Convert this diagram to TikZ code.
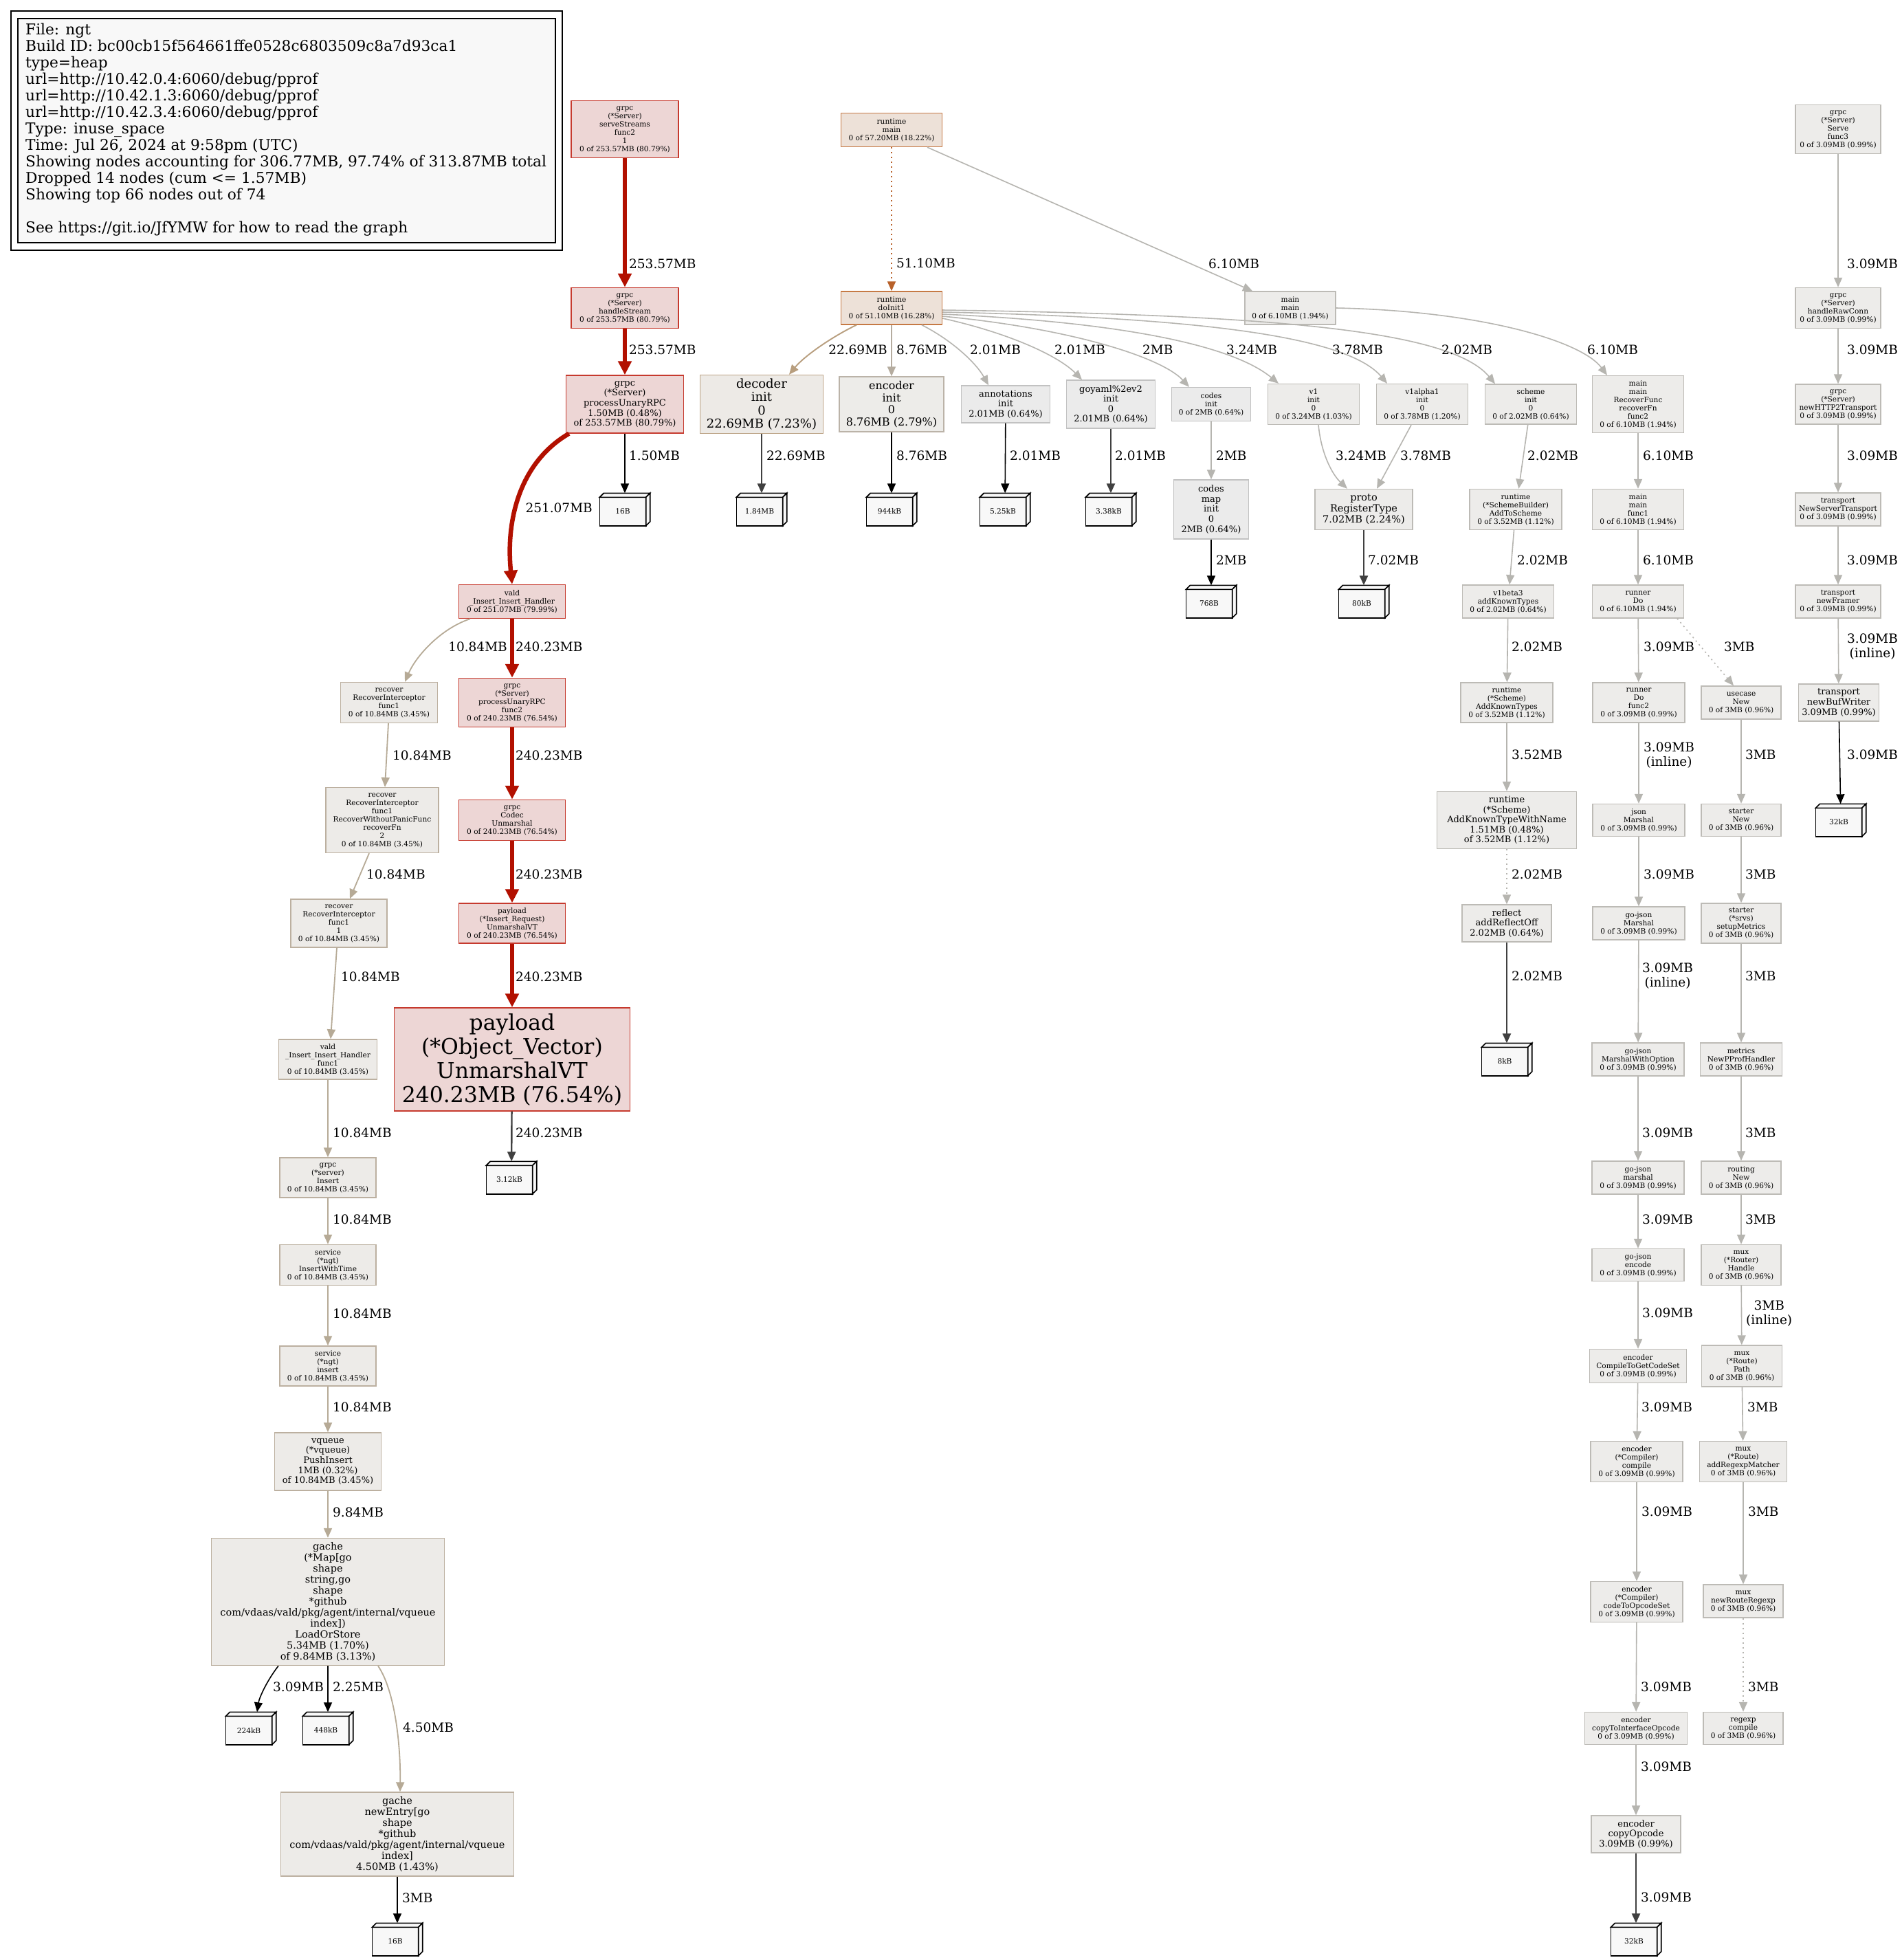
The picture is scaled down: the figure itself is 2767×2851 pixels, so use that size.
\documentclass[tikz,border=0pt]{standalone}
\usepackage{fontspec}
\setmainfont{DejaVu Serif}
\usetikzlibrary{arrows.meta}
\definecolor{rfill}{HTML}{EDD6D5}
\definecolor{rdraw}{HTML}{C63A2E}
\definecolor{ofill}{HTML}{EDE1D8}
\definecolor{odraw}{HTML}{C67A45}
\definecolor{tfill}{HTML}{EDEAE6}
\definecolor{tdraw}{HTML}{BCA385}
\definecolor{efill}{HTML}{EDECE9}
\definecolor{edraw}{HTML}{BBB3A8}
\definecolor{cfill}{HTML}{EDEBE8}
\definecolor{cdraw}{HTML}{BCB0A0}
\definecolor{gfill}{HTML}{EDECEA}
\definecolor{gdraw}{HTML}{BDBBB6}
\definecolor{hfill}{HTML}{EBEBEB}
\definecolor{hdraw}{HTML}{C2C2C2}
\definecolor{lfill}{HTML}{F8F8F8}
\definecolor{eRed}{HTML}{B21000}
\definecolor{eOra}{HTML}{B8612A}
\definecolor{eTan}{HTML}{B89E7E}
\definecolor{eEnc}{HTML}{B5AC9F}
\definecolor{eChain}{HTML}{B6AA96}
\definecolor{eGray}{HTML}{B6B5B0}
\tikzset{
  nbase/.style={draw, rectangle, align=center, inner sep=1pt, line width=1.4pt},
  rN/.style={nbase, fill=rfill, draw=rdraw},
  oN/.style={nbase, fill=ofill, draw=odraw},
  tN/.style={nbase, fill=tfill, draw=tdraw},
  eN/.style={nbase, fill=efill, draw=edraw},
  cN/.style={nbase, fill=cfill, draw=cdraw},
  gN/.style={nbase, fill=gfill, draw=gdraw},
  hN/.style={nbase, fill=hfill, draw=hdraw},
  sz/.style 2 args={minimum width=#1pt, minimum height=#2pt},
  f8/.style={font=\fontsize{10.6pt}{12pt}\selectfont},
  f10/.style={font=\fontsize{13pt}{14.6pt}\selectfont},
  f11/.style={font=\fontsize{14.5pt}{16pt}\selectfont},
  f12/.style={font=\fontsize{16pt}{17.5pt}\selectfont},
  f13/.style={font=\fontsize{18pt}{19.2pt}\selectfont},
  f24/.style={font=\fontsize{31.5pt}{35pt}\selectfont},
  elab/.style={font=\fontsize{18.5pt}{21pt}\selectfont, inner sep=0pt, anchor=west, align=center},
  leafn/.style={rectangle, inner sep=0pt, minimum width=73pt, minimum height=47pt},
  leaft/.style={inner sep=0pt, font=\fontsize{10.6pt}{12pt}\selectfont},
  leafline/.style={fill=lfill, draw=black, line width=1.6pt, line join=miter},
  tipS/.style={-{Triangle[length=14pt,width=12pt]}},
  redE/.style={draw=eRed, line width=6.5pt, -{Triangle[length=20pt,width=19pt]}},
  grayE/.style={draw=eGray, line width=1.6pt, tipS},
  tanE/.style={draw=eTan, line width=1.9pt, tipS},
  encE/.style={draw=eEnc, line width=1.7pt, tipS},
  chainE/.style={draw=eChain, line width=1.8pt, tipS},
  oraE/.style={draw=eOra, line width=1.8pt, tipS},
  blkE/.style={draw=black, line width=1.6pt, tipS},
  darkE/.style={draw=black!75, line width=2.4pt, tipS},
  dotE/.style={dash pattern=on 2pt off 5pt},
}
\newcommand\leafbox[3]{%
  \node[leafn] (#1) at (#2) {};
  \filldraw[leafline] ([yshift=-6pt]#1.north west) rectangle ([xshift=-6pt]#1.south east);
  \filldraw[leafline] ([yshift=-6pt]#1.north west) -- ([xshift=6pt]#1.north west) -- (#1.north east) -- ([xshift=-6pt,yshift=-6pt]#1.north east) -- cycle;
  \filldraw[leafline] ([xshift=-6pt,yshift=-6pt]#1.north east) -- (#1.north east) -- ([yshift=6pt]#1.south east) -- ([xshift=-6pt]#1.south east) -- cycle;
  \node[leaft] (#1t) at ([xshift=-3pt,yshift=-3pt]#1.center) {#3};
}
\begin{document}
\begin{tikzpicture}[x=1pt,y=-1pt]
\useasboundingbox (0,0) rectangle (2767,2851);
\fill[white] (0,0) rectangle (2767,2851);
% legend
\node[draw, line width=1.3pt, minimum width=802pt, minimum height=348pt, inner sep=0pt] (legout) at (417,190) {};
\node[draw, line width=1.3pt, fill=lfill, minimum width=782pt, minimum height=326pt, inner sep=0pt] (legin) at (417,190) {};
\node[anchor=north west, align=left, inner sep=0pt, font=\fontsize{21.7pt}{24pt}\selectfont] (legtxt) at (37,34) {File: ngt\\Build ID: bc00cb15f564661ffe0528c6803509c8a7d93ca1\\type=heap\\url=http://10.42.0.4:6060/debug/pprof\\url=http://10.42.1.3:6060/debug/pprof\\url=http://10.42.3.4:6060/debug/pprof\\Type: inuse\_space\\Time: Jul 26, 2024 at 9:58pm (UTC)\\Showing nodes accounting for 306.77MB, 97.74\% of 313.87MB total\\Dropped 14 nodes (cum <= 1.57MB)\\Showing top 66 nodes out of 74\\[24pt]See https://git.io/JfYMW for how to read the graph};

% ---------- nodes ----------
\node[rN,f8,sz={156}{83}] (ss) at (909,188) {grpc\\(*Server)\\serveStreams\\func2\\1\\0 of 253.57MB (80.79\%)};
\node[rN,f8,sz={156}{59}] (hs) at (909,448) {grpc\\(*Server)\\handleStream\\0 of 253.57MB (80.79\%)};
\node[rN,f10,sz={171}{84}] (pu) at (909,588) {grpc\\(*Server)\\processUnaryRPC\\1.50MB (0.48\%)\\of 253.57MB (80.79\%)};
\leafbox{l16a}{909,741}{16B}
\node[oN,f8,sz={147}{49}] (rm) at (1297,189) {runtime\\main\\0 of 57.20MB (18.22\%)};
\node[oN,f8,sz={147}{48}] (di) at (1297,448) {runtime\\doInit1\\0 of 51.10MB (16.28\%)};
\node[tN,f13,sz={179}{85}] (dec) at (1108,588) {decoder\\init\\0\\22.69MB (7.23\%)};
\node[eN,f12,sz={152}{80}] (enc) at (1297,588) {encoder\\init\\0\\8.76MB (2.79\%)};
\node[hN,f10,sz={129}{54}] (ann) at (1463,588) {annotations\\init\\2.01MB (0.64\%)};
\node[hN,f10,sz={129}{70}] (goy) at (1616,588) {goyaml\%2ev2\\init\\0\\2.01MB (0.64\%)};
\node[hN,f8,sz={115}{49}] (cod) at (1762,588) {codes\\init\\0 of 2MB (0.64\%)};
\node[gN,f8,sz={133}{59}] (v1) at (1911,588) {v1\\init\\0\\0 of 3.24MB (1.03\%)};
\node[gN,f8,sz={133}{59}] (v1a) at (2069,588) {v1alpha1\\init\\0\\0 of 3.78MB (1.20\%)};
\node[gN,f8,sz={133}{58}] (sch) at (2227,588) {scheme\\init\\0\\0 of 2.02MB (0.64\%)};
\node[gN,f8,sz={132}{48}] (mm) at (1877,448) {main\\main\\0 of 6.10MB (1.94\%)};
\node[gN,f8,sz={133}{83}] (rf) at (2383,588) {main\\main\\RecoverFunc\\recoverFn\\func2\\0 of 6.10MB (1.94\%)};
\leafbox{l184}{1108,741}{1.84MB}
\leafbox{l944}{1297,741}{944kB}
\leafbox{l525}{1462,741}{5.25kB}
\leafbox{l338}{1616,741}{3.38kB}
\node[hN,f10,sz={109}{86}] (cmi) at (1762,741) {codes\\map\\init\\0\\2MB (0.64\%)};
\node[gN,f11,sz={142}{59}] (prt) at (1984,741) {proto\\RegisterType\\7.02MB (2.24\%)};
\node[gN,f8,sz={134}{59}] (ats) at (2205,741) {runtime\\(*SchemeBuilder)\\AddToScheme\\0 of 3.52MB (1.12\%)};
\node[gN,f8,sz={133}{59}] (mf1) at (2383,741) {main\\main\\func1\\0 of 6.10MB (1.94\%)};
% right column
\node[gN,f8,sz={124}{71}] (sf3) at (2674,188) {grpc\\(*Server)\\Serve\\func3\\0 of 3.09MB (0.99\%)};
\node[gN,f8,sz={124}{59}] (hrc) at (2674,448) {grpc\\(*Server)\\handleRawConn\\0 of 3.09MB (0.99\%)};
\node[gN,f8,sz={124}{58}] (nh2) at (2674,588) {grpc\\(*Server)\\newHTTP2Transport\\0 of 3.09MB (0.99\%)};
\node[gN,f8,sz={124}{48}] (nst) at (2674,741) {transport\\NewServerTransport\\0 of 3.09MB (0.99\%)};
\node[gN,f8,sz={124}{48}] (nfr) at (2674,875) {transport\\newFramer\\0 of 3.09MB (0.99\%)};
\node[gN,f10,sz={117}{54}] (nbw) at (2675,1022) {transport\\newBufWriter\\3.09MB (0.99\%)};
\leafbox{l32a}{2678,1193}{32kB}
% rank 4
\node[rN,f8,sz={155}{49}] (vih) at (745,875) {vald\\\_Insert\_Insert\_Handler\\0 of 251.07MB (79.99\%)};
\leafbox{l768}{1762,875}{768B}
\leafbox{l80}{1984,875}{80kB}
\node[gN,f8,sz={133}{48}] (v1b) at (2194,875) {v1beta3\\addKnownTypes\\0 of 2.02MB (0.64\%)};
\node[gN,f8,sz={133}{48}] (rdo) at (2383,875) {runner\\Do\\0 of 6.10MB (1.94\%)};
% rank 5
\node[cN,f8,sz={141}{59}] (ric) at (566,1022) {recover\\RecoverInterceptor\\func1\\0 of 10.84MB (3.45\%)};
\node[rN,f8,sz={155}{71}] (pu2) at (745,1022) {grpc\\(*Server)\\processUnaryRPC\\func2\\0 of 240.23MB (76.54\%)};
\node[gN,f8,sz={134}{58}] (akt) at (2192,1022) {runtime\\(*Scheme)\\AddKnownTypes\\0 of 3.52MB (1.12\%)};
\node[gN,f8,sz={134}{58}] (rdf2) at (2384,1022) {runner\\Do\\func2\\0 of 3.09MB (0.99\%)};
\node[gN,f8,sz={116}{48}] (ucn) at (2533,1022) {usecase\\New\\0 of 3MB (0.96\%)};
% rank 6
\node[cN,f8,sz={164}{95}] (rwp) at (556,1193) {recover\\RecoverInterceptor\\func1\\RecoverWithoutPanicFunc\\recoverFn\\2\\0 of 10.84MB (3.45\%)};
\node[rN,f8,sz={155}{59}] (cun) at (745,1193) {grpc\\Codec\\Unmarshal\\0 of 240.23MB (76.54\%)};
\node[gN,f10,sz={203}{83}] (aktn) at (2192,1193) {runtime\\(*Scheme)\\AddKnownTypeWithName\\1.51MB (0.48\%)\\of 3.52MB (1.12\%)};
\node[gN,f8,sz={134}{47}] (jm) at (2384,1193) {json\\Marshal\\0 of 3.09MB (0.99\%)};
\node[gN,f8,sz={116}{47}] (stn) at (2533,1193) {starter\\New\\0 of 3MB (0.96\%)};
% rank 7
\node[cN,f8,sz={140}{70}] (ri1) at (493,1343) {recover\\RecoverInterceptor\\func1\\1\\0 of 10.84MB (3.45\%)};
\node[rN,f8,sz={155}{58}] (pir) at (745,1343) {payload\\(*Insert\_Request)\\UnmarshalVT\\0 of 240.23MB (76.54\%)};
\node[gN,f10,sz={130}{54}] (rao) at (2192,1343) {reflect\\addReflectOff\\2.02MB (0.64\%)};
\node[gN,f8,sz={134}{48}] (gjm) at (2384,1343) {go-json\\Marshal\\0 of 3.09MB (0.99\%)};
\node[gN,f8,sz={116}{58}] (ssm) at (2533,1343) {starter\\(*srvs)\\setupMetrics\\0 of 3MB (0.96\%)};
% rank 8
\node[cN,f8,sz={143}{58}] (vhf) at (477,1541) {vald\\\_Insert\_Insert\_Handler\\func1\\0 of 10.84MB (3.45\%)};
\node[rN,f24,sz={343}{150}] (pov) at (745,1541) {payload\\(*Object\_Vector)\\UnmarshalVT\\240.23MB (76.54\%)};
\leafbox{l8k}{2192,1541}{8kB}
\node[gN,f8,sz={134}{48}] (gjmo) at (2383,1541) {go-json\\MarshalWithOption\\0 of 3.09MB (0.99\%)};
\node[gN,f8,sz={119}{48}] (mpp) at (2533,1541) {metrics\\NewPProfHandler\\0 of 3MB (0.96\%)};
% rank 9
\node[cN,f8,sz={140}{58}] (gsi) at (477,1713) {grpc\\(*server)\\Insert\\0 of 10.84MB (3.45\%)};
\leafbox{l312}{744,1713}{3.12kB}
\node[gN,f8,sz={134}{48}] (gjml) at (2383,1713) {go-json\\marshal\\0 of 3.09MB (0.99\%)};
\node[gN,f8,sz={116}{48}] (rtn) at (2533,1713) {routing\\New\\0 of 3MB (0.96\%)};
% rank 10
\node[cN,f8,sz={140}{59}] (siwt) at (477,1840) {service\\(*ngt)\\InsertWithTime\\0 of 10.84MB (3.45\%)};
\node[gN,f8,sz={134}{47}] (gje) at (2383,1840) {go-json\\encode\\0 of 3.09MB (0.99\%)};
\node[gN,f8,sz={116}{59}] (mrh) at (2533,1840) {mux\\(*Router)\\Handle\\0 of 3MB (0.96\%)};
% rank 11
\node[cN,f8,sz={140}{58}] (sins) at (477,1987) {service\\(*ngt)\\insert\\0 of 10.84MB (3.45\%)};
\node[gN,f8,sz={141}{49}] (ecg) at (2383,1987) {encoder\\CompileToGetCodeSet\\0 of 3.09MB (0.99\%)};
\node[gN,f8,sz={117}{60}] (mrp) at (2534,1987) {mux\\(*Route)\\Path\\0 of 3MB (0.96\%)};
% rank 12
\node[cN,f10,sz={155}{84}] (vpi) at (477,2126) {vqueue\\(*vqueue)\\PushInsert\\1MB (0.32\%)\\of 10.84MB (3.45\%)};
\node[gN,f8,sz={134}{59}] (ecc) at (2381,2126) {encoder\\(*Compiler)\\compile\\0 of 3.09MB (0.99\%)};
\node[gN,f8,sz={127}{59}] (mar) at (2536,2126) {mux\\(*Route)\\addRegexpMatcher\\0 of 3MB (0.96\%)};
% rank 13
\node[cN,f11,sz={339}{185}] (glos) at (477,2330) {gache\\(*Map[go\\shape\\string,go\\shape\\{*}github\\com/vdaas/vald/pkg/agent/internal/vqueue\\index])\\LoadOrStore\\5.34MB (1.70\%)\\of 9.84MB (3.13\%)};
\node[gN,f8,sz={134}{59}] (eco) at (2381,2330) {encoder\\(*Compiler)\\codeToOpcodeSet\\0 of 3.09MB (0.99\%)};
\node[gN,f8,sz={116}{48}] (mnr) at (2536,2329) {mux\\newRouteRegexp\\0 of 3MB (0.96\%)};
% rank 14
\leafbox{l224}{365,2514}{224kB}
\leafbox{l448}{477,2514}{448kB}
\node[gN,f8,sz={149}{47}] (ecti) at (2380,2514) {encoder\\copyToInterfaceOpcode\\0 of 3.09MB (0.99\%)};
\node[gN,f8,sz={116}{47}] (rxc) at (2536,2514) {regexp\\compile\\0 of 3MB (0.96\%)};
% rank 15
\node[cN,f11,sz={339}{122}] (gne) at (578,2668) {gache\\newEntry[go\\shape\\{*}github\\com/vdaas/vald/pkg/agent/internal/vqueue\\index]\\4.50MB (1.43\%)};
\node[gN,f10,sz={130}{54}] (eco2) at (2380,2668) {encoder\\copyOpcode\\3.09MB (0.99\%)};
% rank 16
\leafbox{l16b}{578,2821}{16B}
\leafbox{l32b}{2380,2821}{32kB}

% ---------- edges ----------
\draw[redE] (ss) -- (hs);
\draw[redE] (hs) -- (pu);
\draw[blkE] (pu) -- (l16a);
\draw[redE] ([xshift=5pt]pu.south west) .. controls (760,670) and (735,750) .. (vih.north);
\draw[oraE, dotE] (rm) -- (di);
\draw[grayE] ([xshift=52pt]rm.south) -- ([xshift=-55pt]mm.north);
\draw[tanE] ([xshift=-51pt]di.south) .. controls (1210,490) and (1170,518) .. ([xshift=40pt]dec.north);
\draw[encE] (di) -- (enc);
\draw[grayE] ([xshift=44pt]di.south) .. controls (1385,495) and (1420,528) .. ([xshift=-25pt]ann.north);
\draw[grayE] ([yshift=-15pt]di.east) .. controls (1470,485) and (1540,518) .. ([xshift=-42pt]goy.north);
\draw[grayE] ([yshift=-12pt]di.east) .. controls (1560,478) and (1690,520) .. ([xshift=-32pt]cod.north);
\draw[grayE] ([yshift=-9pt]di.east) .. controls (1620,468) and (1790,500) .. ([xshift=-51pt]v1.north);
\draw[grayE] ([yshift=-6pt]di.east) .. controls (1750,462) and (1960,490) .. ([xshift=-51pt]v1a.north);
\draw[grayE] ([yshift=-3pt]di.east) .. controls (1850,458) and (2110,480) .. ([xshift=-52pt]sch.north);
\draw[grayE] (mm.east) .. controls (2150,452) and (2300,495) .. ([xshift=-45pt]rf.north);
\draw[darkE] (dec) -- (l184);
\draw[blkE] (enc) -- (l944);
\draw[blkE] (ann) -- (l525);
\draw[darkE] (goy) -- (l338);
\draw[grayE] (cod) -- (cmi);
\draw[grayE] ([xshift=7pt]v1.south) .. controls (1922,660) and (1938,690) .. ([xshift=-24pt]prt.north);
\draw[grayE] ([xshift=-16pt]v1a.south) -- ([xshift=19pt]prt.north);
\draw[grayE] (sch) -- (ats);
\draw[grayE] (rf) -- (mf1);
\draw[blkE] (cmi) -- (l768);
\draw[darkE] (prt) -- (l80);
\draw[grayE] (ats) -- (v1b);
\draw[grayE] (mf1) -- (rdo);
\draw[grayE] (sf3) -- (hrc);
\draw[grayE] (hrc) -- (nh2);
\draw[grayE] (nh2) -- (nst);
\draw[grayE] (nst) -- (nfr);
\draw[grayE] (nfr) -- (nbw);
\draw[blkE] (nbw) -- (l32a);
\draw[chainE] ([xshift=17pt]vih.south west) .. controls (640,915) and (605,955) .. ([xshift=23pt]ric.north);
\draw[redE] (vih) -- (pu2);
\draw[redE] (pu2) -- (cun);
\draw[redE] (cun) -- (pir);
\draw[redE] (pir) -- (pov);
\draw[darkE] (pov) -- (l312);
\draw[chainE] ([xshift=-1pt]ric.south) -- ([xshift=4pt]rwp.north);
\draw[chainE] ([xshift=-19pt]rwp.south) -- ([xshift=16pt]ri1.north);
\draw[chainE] ([xshift=-3pt]ri1.south) -- ([xshift=4pt]vhf.north);
\draw[chainE] (vhf) -- (gsi);
\draw[chainE] (gsi) -- (siwt);
\draw[chainE] (siwt) -- (sins);
\draw[chainE] (sins) -- (vpi);
\draw[chainE] (vpi) -- (glos);
\draw[blkE] ([xshift=-72pt]glos.south) .. controls (388,2445) and (377,2470) .. ([xshift=9pt]l224.north);
\draw[blkE] (glos) -- (l448);
\draw[chainE] ([xshift=73pt]glos.south) .. controls (575,2460) and (583,2540) .. ([xshift=4pt]gne.north);
\draw[blkE] (gne) -- (l16b);
\draw[grayE] (v1b) -- (akt);
\draw[grayE] (akt) -- (aktn);
\draw[grayE, dotE] (aktn) -- (rao);
\draw[darkE] (rao) -- (l8k);
\draw[grayE] (rdo) -- (rdf2);
\draw[grayE, dotE] ([xshift=57pt]rdo.south) -- ([xshift=-11pt]ucn.north);
\draw[grayE] (rdf2) -- (jm);
\draw[grayE] (ucn) -- (stn);
\draw[grayE] (jm) -- (gjm);
\draw[grayE] (stn) -- (ssm);
\draw[grayE] (gjm) -- (gjmo);
\draw[grayE] (ssm) -- (mpp);
\draw[grayE] (gjmo) -- (gjml);
\draw[grayE] (mpp) -- (rtn);
\draw[grayE] (gjml) -- (gje);
\draw[grayE] (rtn) -- (mrh);
\draw[grayE] (gje) -- (ecg);
\draw[grayE] (mrh) -- (mrp);
\draw[grayE] (ecg) -- (ecc);
\draw[grayE] (mrp) -- (mar);
\draw[grayE] (ecc) -- (eco);
\draw[grayE] (mar) -- (mnr);
\draw[grayE] (eco) -- (ecti);
\draw[grayE, dotE] (mnr) -- (rxc);
\draw[grayE] (ecti) -- (eco2);
\draw[darkE] (eco2) -- (l32b);

% ---------- edge labels ----------
\node[elab] (t1) at (915,384) {253.57MB};
\node[elab] (t2) at (915,509) {253.57MB};
\node[elab] (t3) at (915,663) {1.50MB};
\node[elab,anchor=east] (t4) at (862,739) {251.07MB};
\node[elab] (t5) at (1304,383) {51.10MB};
\node[elab] (t6) at (1758,384) {6.10MB};
\node[elab,anchor=east] (t7) at (1291,509) {22.69MB};
\node[elab] (t8) at (1304,509) {8.76MB};
\node[elab] (t9) at (1411,509) {2.01MB};
\node[elab] (t10) at (1534,509) {2.01MB};
\node[elab] (t11) at (1662,509) {2MB};
\node[elab] (t12) at (1784,509) {3.24MB};
\node[elab] (t13) at (1938,509) {3.78MB};
\node[elab] (t14) at (2097,509) {2.02MB};
\node[elab] (t15) at (2309,509) {6.10MB};
\node[elab] (t16) at (1115,663) {22.69MB};
\node[elab] (t17) at (1304,663) {8.76MB};
\node[elab] (t18) at (1469,663) {2.01MB};
\node[elab] (t19) at (1622,663) {2.01MB};
\node[elab] (t20) at (1769,663) {2MB};
\node[elab] (t21) at (1943,663) {3.24MB};
\node[elab] (t22) at (2037,663) {3.78MB};
\node[elab] (t23) at (2222,663) {2.02MB};
\node[elab] (t24) at (2390,663) {6.10MB};
\node[elab] (t25) at (1769,815) {2MB};
\node[elab] (t26) at (1990,815) {7.02MB};
\node[elab] (t27) at (2207,815) {2.02MB};
\node[elab] (t28) at (2390,815) {6.10MB};
\node[elab] (t29) at (2687,384) {3.09MB};
\node[elab] (t30) at (2687,509) {3.09MB};
\node[elab] (t31) at (2687,663) {3.09MB};
\node[elab] (t32) at (2687,815) {3.09MB};
\node[elab] (t33) at (2687,941) {3.09MB\\(inline)};
\node[elab] (t34) at (2687,1098) {3.09MB};
\node[elab,anchor=east] (t35) at (738,941) {10.84MB};
\node[elab] (t36) at (750,941) {240.23MB};
\node[elab] (t37) at (571,1099) {10.84MB};
\node[elab] (t38) at (750,1099) {240.23MB};
\node[elab] (t39) at (533,1272) {10.84MB};
\node[elab] (t40) at (750,1272) {240.23MB};
\node[elab] (t41) at (496,1421) {10.84MB};
\node[elab] (t42) at (750,1421) {240.23MB};
\node[elab] (t43) at (484,1648) {10.84MB};
\node[elab] (t44) at (750,1648) {240.23MB};
\node[elab] (t45) at (484,1774) {10.84MB};
\node[elab] (t46) at (484,1911) {10.84MB};
\node[elab] (t47) at (484,2047) {10.84MB};
\node[elab] (t48) at (484,2200) {9.84MB};
\node[elab] (t49) at (397,2454) {3.09MB};
\node[elab] (t50) at (484,2454) {2.25MB};
\node[elab] (t51) at (586,2513) {4.50MB};
\node[elab] (t52) at (585,2761) {3MB};
\node[elab] (t53) at (2199,941) {2.02MB};
\node[elab] (t54) at (2199,1098) {3.52MB};
\node[elab] (t55) at (2199,1272) {2.02MB};
\node[elab] (t56) at (2199,1420) {2.02MB};
\node[elab] (t57) at (2391,941) {3.09MB};
\node[elab] (t58) at (2508,941) {3MB};
\node[elab] (t59) at (2391,1099) {3.09MB\\(inline)};
\node[elab] (t60) at (2539,1098) {3MB};
\node[elab] (t61) at (2391,1272) {3.09MB};
\node[elab] (t62) at (2539,1272) {3MB};
\node[elab] (t63) at (2389,1420) {3.09MB\\(inline)};
\node[elab] (t64) at (2539,1420) {3MB};
\node[elab] (t65) at (2389,1648) {3.09MB};
\node[elab] (t66) at (2539,1648) {3MB};
\node[elab] (t67) at (2389,1774) {3.09MB};
\node[elab] (t68) at (2539,1774) {3MB};
\node[elab] (t69) at (2389,1910) {3.09MB};
\node[elab] (t70) at (2540,1911) {3MB\\(inline)};
\node[elab] (t71) at (2388,2047) {3.09MB};
\node[elab] (t72) at (2542,2047) {3MB};
\node[elab] (t73) at (2388,2199) {3.09MB};
\node[elab] (t74) at (2543,2199) {3MB};
\node[elab] (t75) at (2387,2454) {3.09MB};
\node[elab] (t76) at (2543,2454) {3MB};
\node[elab] (t77) at (2387,2570) {3.09MB};
\node[elab] (t78) at (2387,2760) {3.09MB};
\end{tikzpicture}
\end{document}
